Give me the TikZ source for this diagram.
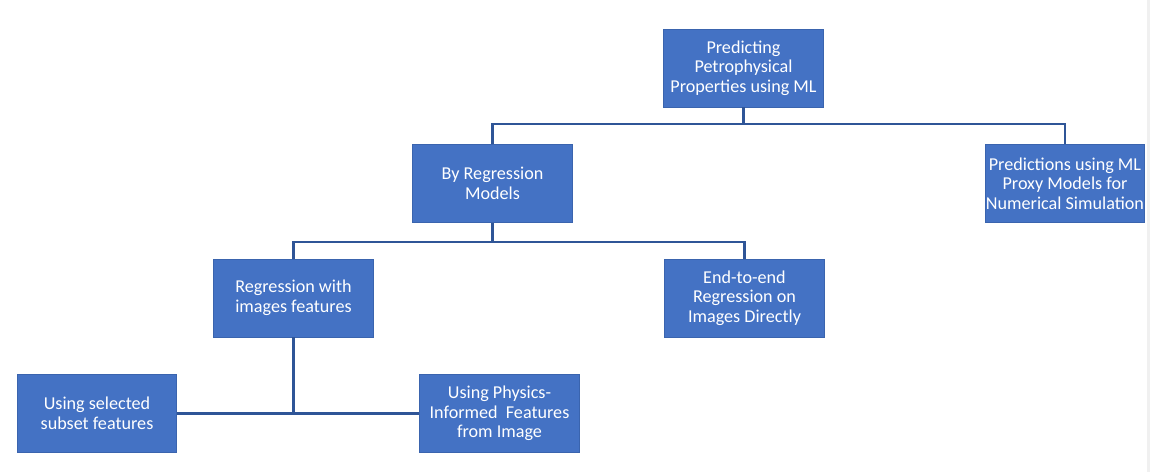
\documentclass[tikz,border=0pt]{standalone}
\usepackage{fontspec}
\setmainfont{Carlito}
\begin{document}
\begin{tikzpicture}[x=0.75pt,y=-0.75pt,
  box/.style={draw=boxedge,fill=boxfill,line width=0.6pt,text=white,align=center,
    minimum width=119.5pt,minimum height=58.5pt,inner sep=0pt,
    font=\fontsize{13.6}{14.8}\selectfont},
  conn/.style={draw=linecol,line width=1.6pt}]
\definecolor{boxfill}{HTML}{4472C4}
\definecolor{boxedge}{HTML}{3A64AE}
\definecolor{linecol}{HTML}{2F5597}
\useasboundingbox (0,0) rectangle (1150,472);
\fill[white] (0,0) rectangle (1150,472);
\fill[black!6] (1147,0) rectangle (1150,472);
\node[box] (top) at (743.5,68) {Predicting\\Petrophysical\\Properties using ML};
\node[box] (byreg) at (492.5,183.5) {By Regression\\Models};
\node[box] (pred) at (1065,183.5) {Predictions using ML\\Proxy Models for\\Numerical Simulation};
\node[box] (regimg) at (293.5,298) {Regression with\\images features};
\node[box] (e2e) at (744.5,298) {End-to-end\\Regression on\\Images Directly};
\node[box] (subset) at (97,413.5) {Using selected\\subset features};
\node[box] (phys) at (499.5,413.5) {Using Physics-\\Informed\ \ Features\\from Image};
\coordinate (j1) at (743.5,124);
\coordinate (j2) at (492.5,242);
\draw[conn] (top.south) -- (j1);
\draw[conn] (byreg.north) |- (j1) -| (pred.north);
\draw[conn] (byreg.south) -- (j2);
\draw[conn] (regimg.north) |- (j2) -| (e2e.north);
\draw[conn] (subset.east) -- (phys.west);
\draw[conn] (regimg.south) -- (regimg.south |- subset.east);
\end{tikzpicture}
\end{document}
